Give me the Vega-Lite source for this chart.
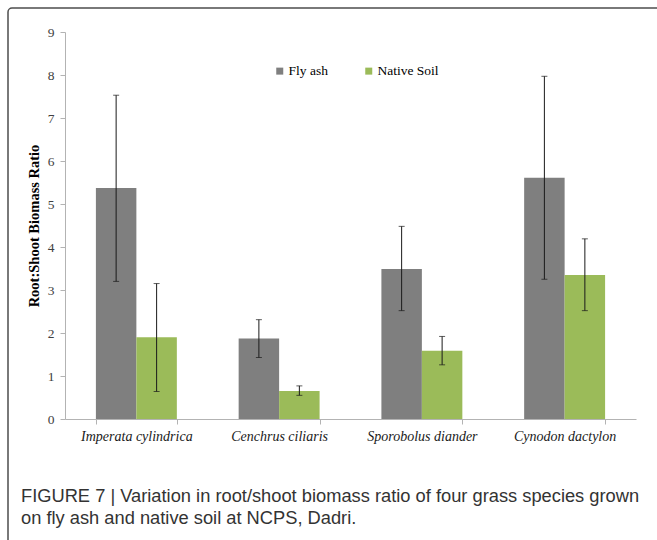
{
  "$schema": "https://vega.github.io/schema/vega-lite/v6.json",
  "width": 653,
  "height": 536,
  "autosize": {"type": "none"},
  "padding": {"left": 8, "top": 8, "right": -4, "bottom": -4},
  "background": "white",
  "config": {
    "view": {"stroke": "#4d4d4d", "strokeWidth": 1.5, "cornerRadius": 4},
    "font": "Liberation Serif"
  },
  "title": {
    "text": ["FIGURE 7 | Variation in root/shoot biomass ratio of four grass species grown", "on fly ash and native soil at NCPS, Dadri."],
    "orient": "bottom",
    "anchor": "start",
    "frame": "group",
    "offset": -56,
    "dx": 13,
    "font": "Liberation Sans",
    "fontSize": 18.3,
    "fontWeight": "normal",
    "color": "#333333",
    "lineHeight": 22
  },
  "data": {
    "values": [
      {"species": "Imperata cylindrica", "soil": "Fly ash", "value": 5.37, "lo": 3.20, "hi": 7.53},
      {"species": "Imperata cylindrica", "soil": "Native Soil", "value": 1.90, "lo": 0.64, "hi": 3.15},
      {"species": "Cenchrus ciliaris", "soil": "Fly ash", "value": 1.87, "lo": 1.43, "hi": 2.31},
      {"species": "Cenchrus ciliaris", "soil": "Native Soil", "value": 0.65, "lo": 0.55, "hi": 0.77},
      {"species": "Sporobolus diander", "soil": "Fly ash", "value": 3.49, "lo": 2.52, "hi": 4.48},
      {"species": "Sporobolus diander", "soil": "Native Soil", "value": 1.59, "lo": 1.26, "hi": 1.92},
      {"species": "Cynodon dactylon", "soil": "Fly ash", "value": 5.61, "lo": 3.25, "hi": 7.97},
      {"species": "Cynodon dactylon", "soil": "Native Soil", "value": 3.35, "lo": 2.52, "hi": 4.19}
    ]
  },
  "encoding": {
    "x": {
      "field": "species",
      "type": "nominal",
      "sort": ["Imperata cylindrica", "Cenchrus ciliaris", "Sporobolus diander", "Cynodon dactylon"],
      "scale": {"range": [57, 628], "paddingInner": 0.433, "paddingOuter": 0.2165},
      "axis": {
        "title": null,
        "orient": "bottom",
        "offset": -125,
        "tickBand": "extent",
        "domainColor": "#b3b3b3",
        "tickColor": "#b3b3b3",
        "tickSize": 5,
        "labelAngle": 0,
        "labelFont": "Liberation Serif",
        "labelFontStyle": "italic",
        "labelFontSize": 14,
        "labelColor": "#1a1a1a",
        "labelPadding": 5,
        "grid": false
      }
    },
    "xOffset": {"field": "soil", "type": "nominal", "sort": ["Fly ash", "Native Soil"]}
  },
  "layer": [
    {
      "mark": {"type": "bar"},
      "encoding": {
        "y": {
          "field": "value",
          "type": "quantitative",
          "scale": {"domain": [0, 9], "range": [411, 24], "nice": false},
          "axis": {
            "title": "Root:Shoot Biomass Ratio",
            "orient": "left",
            "offset": -57,
            "values": [0, 1, 2, 3, 4, 5, 6, 7, 8, 9],
            "format": "d",
            "grid": false,
            "domainColor": "#b3b3b3",
            "tickColor": "#b3b3b3",
            "tickSize": 5,
            "labelFont": "Liberation Serif",
            "labelFontSize": 13.5,
            "labelColor": "#404040",
            "labelPadding": 6,
            "titleFont": "Liberation Serif",
            "titleFontSize": 14.5,
            "titleFontWeight": "bold",
            "titleColor": "#000000",
            "titlePadding": 6
          }
        },
        "color": {
          "field": "soil",
          "type": "nominal",
          "scale": {"domain": ["Fly ash", "Native Soil"], "range": ["#7f7f7f", "#9bbb59"]},
          "legend": {
            "title": null,
            "orient": "none",
            "legendX": 265,
            "legendY": 56,
            "direction": "horizontal",
            "symbolType": "square",
            "symbolSize": 49,
            "symbolStrokeWidth": 0,
            "labelFont": "Liberation Serif",
            "labelFontSize": 13.5,
            "labelColor": "#000000",
            "labelOffset": 2,
            "columnPadding": 34,
            "padding": 0
          }
        }
      }
    },
    {
      "mark": {"type": "rule", "color": "#1a1a1a", "strokeWidth": 1},
      "encoding": {
        "y": {"field": "lo", "type": "quantitative"},
        "y2": {"field": "hi"}
      }
    },
    {
      "mark": {"type": "tick", "color": "#1a1a1a", "thickness": 1, "size": 6},
      "encoding": {"y": {"field": "hi", "type": "quantitative"}}
    },
    {
      "mark": {"type": "tick", "color": "#1a1a1a", "thickness": 1, "size": 6},
      "encoding": {"y": {"field": "lo", "type": "quantitative"}}
    }
  ]
}
